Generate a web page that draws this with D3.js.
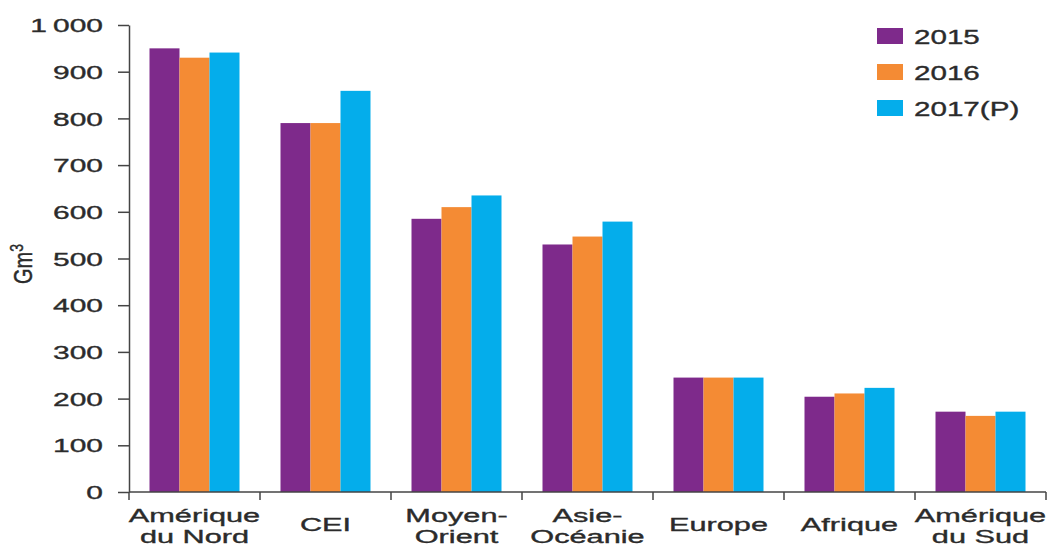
<!DOCTYPE html>
<html>
<head>
<meta charset="utf-8">
<script src="https://cdn.jsdelivr.net/npm/d3@7/dist/d3.min.js"></script>
<style>
  html, body { margin: 0; padding: 0; background: #fff; }
  svg { display: block; }
  text { font-family: "Liberation Sans", Arial, Helvetica, sans-serif; fill: #2b2b2b; stroke: #2b2b2b; stroke-width: 0.35px; }
</style>
</head>
<body>
<svg id="chart" width="1048" height="548"></svg>
<script>
const categories = [["Amérique", "du Nord"], ["CEI"], ["Moyen-", "Orient"], ["Asie-", "Océanie"], ["Europe"], ["Afrique"], ["Amérique", "du Sud"]];
const seriesNames = ["2015", "2016", "2017(P)"];
const values2015 = [950, 790, 585, 530, 245, 204, 172];
const values2016 = [930, 790, 610, 547, 245, 211, 163];
const values2017 = [941, 859, 635, 579, 245, 223, 172];
const colors = ["#7e2a8b", "#f48b34", "#04adeb"];
const yTicks = [0, 100, 200, 300, 400, 500, 600, 700, 800, 900, 1000];
const yTickLabels = ["0", "100", "200", "300", "400", "500", "600", "700", "800", "900", "1\u2009000"];

const series = [values2015, values2016, values2017];
const svg = d3.select("#chart");
const mLeft = 129, mRight = 1046, mTop = 25, mBottom = 492;
const SX = 1.66;

const catKeys = categories.map((c, i) => i);
const x0 = d3.scaleBand().domain(catKeys).range([mLeft, mRight]).paddingInner(0.313).paddingOuter(0.1565);
const x1 = d3.scaleBand().domain(d3.range(seriesNames.length)).range([0, x0.bandwidth()]);
const y = d3.scaleLinear().domain([0, 1000]).range([mBottom, mTop]);

// bars
const groups = svg.append("g").selectAll("g").data(catKeys).join("g")
  .attr("transform", d => `translate(${x0(d)},0)`);
groups.selectAll("rect").data(d => series.map((s, j) => ({ j, v: s[d] }))).join("rect")
  .attr("x", d => x1(d.j))
  .attr("width", x1.bandwidth())
  .attr("y", d => y(d.v))
  .attr("height", d => y(0) - y(d.v))
  .attr("fill", d => colors[d.j]);

// y axis
const yAxis = svg.append("g").attr("transform", `translate(${mLeft},0)`)
  .call(d3.axisLeft(y).tickValues(yTicks).tickFormat(() => "").tickSize(11).tickSizeOuter(0));
yAxis.select(".domain").attr("stroke", "#444").attr("stroke-width", 1.5);
yAxis.selectAll(".tick line").attr("stroke", "#444").attr("stroke-width", 1.5);
yAxis.selectAll(".tick text").remove();
yAxis.selectAll(".tick").each(function (d, i) {
  d3.select(this).append("text")
    .attr("transform", `translate(-26,0) scale(1.62,1)`)
    .attr("text-anchor", "end")
    .attr("dy", "0.36em")
    .attr("font-size", 18.5)
    .style("font-family", "'Liberation Sans', Arial, sans-serif")
    .text(yTickLabels[i]);
});

// x axis
const boundaries = catKeys.map(k => x0(k) - x0.step() * x0.paddingInner() / 2);
boundaries.push(mRight);
const xAxisG = svg.append("g");
xAxisG.append("line").attr("x1", mLeft).attr("x2", mRight).attr("y1", mBottom).attr("y2", mBottom)
  .attr("stroke", "#444").attr("stroke-width", 1.5);
xAxisG.selectAll("line.t").data(boundaries).join("line").attr("class", "t")
  .attr("x1", d => d).attr("x2", d => d).attr("y1", mBottom).attr("y2", mBottom + 8)
  .attr("stroke", "#444").attr("stroke-width", 1.5);

// x labels
catKeys.forEach(k => {
  const cx = x0(k) + x0.bandwidth() / 2;
  const lines = categories[k];
  const t = svg.append("text")
    .attr("transform", `translate(${cx},0) scale(${SX},1)`)
    .attr("text-anchor", "middle")
    .attr("font-size", 18.5);
  if (lines.length === 1) {
    t.append("tspan").attr("x", 0).attr("y", 531).text(lines[0]);
  } else {
    t.append("tspan").attr("x", 0).attr("y", 522).text(lines[0]);
    t.append("tspan").attr("x", 0).attr("y", 543).text(lines[1]);
  }
});

// y title
const yt = svg.append("text")
  .attr("transform", `translate(32,264) scale(1.25,1) rotate(-90)`)
  .attr("text-anchor", "middle")
  .attr("font-size", 20);
yt.append("tspan").text("Gm");
yt.append("tspan").attr("font-size", 14).attr("dy", -7).text("3");

// legend
const legend = svg.append("g");
seriesNames.forEach((name, i) => {
  const ty = 28 + i * 36;
  legend.append("rect").attr("x", 877).attr("y", ty).attr("width", 26).attr("height", 16).attr("fill", colors[i]);
  legend.append("text")
    .attr("transform", `translate(914,${ty + 16}) scale(1.48,1)`)
    .attr("font-size", 20)
    .text(name);
});
</script>
</body>
</html>
